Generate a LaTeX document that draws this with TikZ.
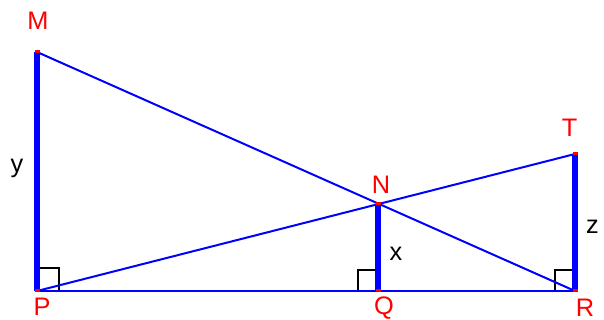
\documentclass[tikz,border=0pt]{standalone}
\usepackage{fontspec}
\setmainfont{Liberation Sans}
\usetikzlibrary{calc}
\begin{document}
\begin{tikzpicture}[x=0.75pt,y=-0.75pt,
  thin line/.style={blue,line width=1.5pt},
  thick seg/.style={blue,line width=3.9pt},
  ra/.style={black,line width=1.1pt},
  vlabel/.style={red,font=\fontsize{19}{22}\selectfont,inner sep=0pt},
  slabel/.style={black,font=\fontsize{19}{22}\selectfont,inner sep=0pt},
  dot/.style={red}]
\useasboundingbox (0,0) rectangle (604,320);
\coordinate (M) at (37,52);
\coordinate (P) at (37,291);
\coordinate (Q) at (378,291);
\coordinate (R) at (575,291);
\coordinate (T) at (575,154);
\coordinate (N) at (378,204);
% right angle marks
\draw[ra] (37,268) -- (59,268) -- (59,291);
\draw[ra] (378,270) -- (358,270) -- (358,291);
\draw[ra] (575,270) -- (555,270) -- (555,291);
% thin lines
\draw[thin line] (P) -- (R);
\draw[thin line] (M) -- (R);
\draw[thin line] (P) -- (T);
% thick segments
\draw[thick seg] (M) -- (P);
\draw[thick seg] (N) -- (Q);
\draw[thick seg] (T) -- (R);
% dots
\foreach \p in {M,P,Q,R,T,N} \fill[dot] ($(\p)+(-2.5,-1.5)$) rectangle ($(\p)+(2.5,1.5)$);
% labels
\node[vlabel] (lM) at (38,21) {M};
\node[vlabel] (lP) at (42,307) {P};
\node[vlabel] (lQ) at (384,308) {Q};
\node[vlabel] (lR) at (585,308) {R};
\node[vlabel] (lT) at (569.5,128) {T};
\node[vlabel] (lN) at (381,184.5) {N};
\node[slabel] (ly) at (17,168) {y};
\node[slabel] (lx) at (396,253.5) {x};
\node[slabel] (lz) at (592.5,226.5) {z};
\end{tikzpicture}
\end{document}
